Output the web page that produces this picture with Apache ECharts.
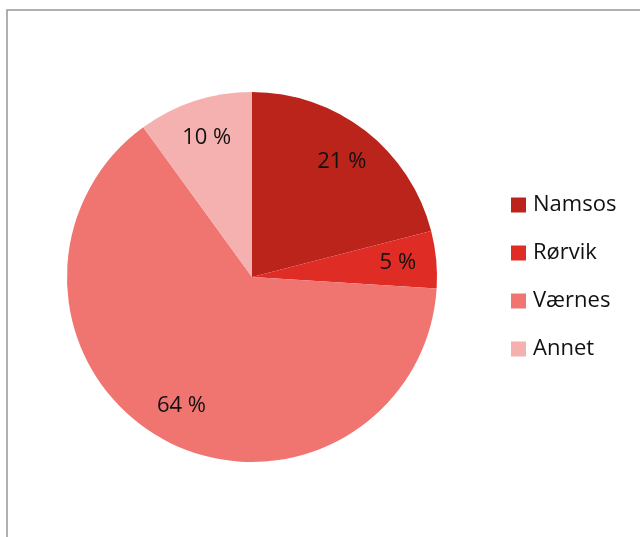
<!DOCTYPE html>
<html>
<head>
<meta charset="utf-8">
<title>Fordeling</title>
<script src="https://cdn.jsdelivr.net/npm/echarts@6/dist/echarts.min.js"></script>
<style>
  html, body { margin: 0; padding: 0; background: #fff; }
  #chart { width: 640px; height: 537px; }
</style>
</head>
<body>
<div id="chart"></div>
<script>
// Share per location, in percent
const categories = ['Namsos', 'Rørvik', 'Værnes', 'Annet'];
const values = [21, 5, 64, 10];
const colors = ['#BB241B', '#DF2D25', '#F07571', '#F5B1B0'];

const FONT = '"Open Sans", "Noto Sans", sans-serif';
const CENTER = [252, 277];
const RADIUS = 185;

const pieData = categories.map((name, i) => ({
  name: name,
  value: values[i],
  itemStyle: { color: colors[i] }
}));

const chart = echarts.init(document.getElementById('chart'), null, { renderer: 'canvas' });

chart.setOption({
  backgroundColor: '#ffffff',
  animation: false,
  graphic: [{
    type: 'rect',
    shape: { x: 7, y: 10, width: 800, height: 700 },
    style: { fill: 'none', stroke: '#979797', lineWidth: 1.5 },
    silent: true,
    z: 100
  }],
  legend: {
    data: categories,
    orient: 'vertical',
    left: 511,
    top: 194,
    padding: 0,
    itemWidth: 15,
    itemHeight: 15,
    itemGap: 26,
    icon: 'rect',
    selectedMode: false,
    textStyle: {
      fontFamily: FONT,
      fontSize: 22,
      lineHeight: 22,
      color: '#111111',
      padding: [0, 0, 0, 2]
    }
  },
  series: [
    {
      // the slices
      type: 'pie',
      center: CENTER,
      radius: [0, RADIUS],
      startAngle: 90,
      clockwise: true,
      silent: true,
      label: { show: false },
      labelLine: { show: false },
      itemStyle: { borderWidth: 0 },
      data: pieData
    },
    {
      // transparent ring carrying the percentage labels
      type: 'pie',
      center: CENTER,
      radius: [102, RADIUS],
      startAngle: 90,
      clockwise: true,
      silent: true,
      itemStyle: { color: 'rgba(0,0,0,0)', borderWidth: 0 },
      label: {
        show: true,
        position: 'inside',
        formatter: p => p.value + ' %',
        fontFamily: FONT,
        fontSize: 22,
        color: '#111111'
      },
      labelLine: { show: false },
      data: categories.map((name, i) => ({ name: name, value: values[i] }))
    }
  ]
});
</script>
</body>
</html>
